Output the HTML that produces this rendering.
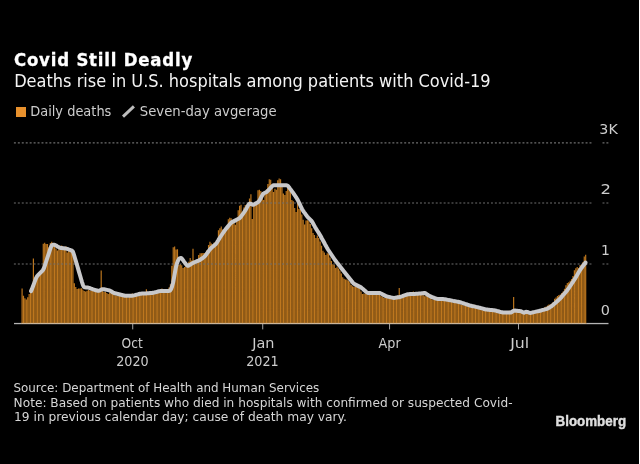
<!DOCTYPE html>
<html><head><meta charset="utf-8"><title>Covid Still Deadly</title>
<style>
html,body{margin:0;padding:0;background:#000;}
body{width:640px;height:464px;overflow:hidden;}
svg{display:block}
text{font-family:'DejaVu Sans','Liberation Sans',sans-serif;fill:#d8d8d8;white-space:pre}
.t{font-weight:bold;font-size:18.4px;fill:#fff;font-stretch:condensed;stroke:#fff;stroke-width:0.3px}
.s{font-size:16.9px;fill:#f4f4f4}
.l{font-size:13.8px;fill:#cdcdcd}
.a{font-size:13.9px;fill:#cdcdcd}
.n{font-size:12.9px;fill:#d6d6d6}
.b{font-family:'Liberation Sans',sans-serif;font-weight:bold;font-size:14.3px;fill:#dedede;stroke:#dedede;stroke-width:0.45px}
</style></head><body>
<svg width="640" height="464" viewBox="0 0 640 464">
<rect width="640" height="464" fill="#000"/>
<rect x="639" y="0" width="1" height="464" fill="#fff"/>
<rect x="16" y="107" width="10" height="10" fill="#e8912d"/>
<line x1="123" y1="116.6" x2="133.9" y2="106.4" stroke="#bdbdbd" stroke-width="3"/>
<rect x="14" y="322.9" width="594.5" height="1.3" fill="#b4b4b4"/>
<path d="M21.50 324v-35.4h1.18v35.4zM22.91 324v-28.3h1.18v28.3zM24.32 324v-25.7h1.18v25.7zM25.74 324v-24.4h1.18v24.4zM27.15 324v-26.7h1.18v26.7zM28.56 324v-29.9h1.18v29.9zM29.98 324v-33.6h1.18v33.6zM31.39 324v-38.2h1.18v38.2zM32.80 324v-65.5h1.18v65.5zM34.21 324v-43.7h1.18v43.7zM35.62 324v-44.5h1.18v44.5zM37.04 324v-46.6h1.18v46.6zM38.45 324v-48.7h1.18v48.7zM39.86 324v-50.8h1.18v50.8zM41.28 324v-52.5h1.18v52.5zM42.69 324v-80.3h1.18v80.3zM44.10 324v-81.3h1.18v81.3zM45.51 324v-79.9h1.18v79.9zM46.92 324v-79.9h1.18v79.9zM48.34 324v-76.8h1.18v76.8zM49.75 324v-81.0h1.18v81.0zM51.16 324v-82.2h1.18v82.2zM52.58 324v-77.9h1.18v77.9zM53.99 324v-79.0h1.18v79.0zM55.40 324v-75.6h1.18v75.6zM56.81 324v-73.6h1.18v73.6zM58.23 324v-74.8h1.18v74.8zM59.64 324v-74.5h1.18v74.5zM61.05 324v-78.6h1.18v78.6zM62.46 324v-76.0h1.18v76.0zM63.88 324v-76.6h1.18v76.6zM65.29 324v-77.7h1.18v77.7zM66.70 324v-71.5h1.18v71.5zM68.11 324v-73.9h1.18v73.9zM69.53 324v-72.6h1.18v72.6zM70.94 324v-74.3h1.18v74.3zM72.35 324v-70.8h1.18v70.8zM73.76 324v-40.8h1.18v40.8zM75.18 324v-37.0h1.18v37.0zM76.59 324v-34.9h1.18v34.9zM78.00 324v-35.4h1.18v35.4zM79.41 324v-35.4h1.18v35.4zM80.83 324v-35.8h1.18v35.8zM82.24 324v-34.5h1.18v34.5zM83.65 324v-33.1h1.18v33.1zM85.06 324v-32.5h1.18v32.5zM86.48 324v-33.2h1.18v33.2zM87.89 324v-34.0h1.18v34.0zM89.30 324v-33.6h1.18v33.6zM90.71 324v-33.5h1.18v33.5zM92.12 324v-34.3h1.18v34.3zM93.54 324v-33.0h1.18v33.0zM94.95 324v-32.6h1.18v32.6zM96.36 324v-32.6h1.18v32.6zM97.78 324v-32.5h1.18v32.5zM99.19 324v-33.3h1.18v33.3zM100.60 324v-53.5h1.18v53.5zM102.01 324v-33.1h1.18v33.1zM103.43 324v-32.0h1.18v32.0zM104.84 324v-32.0h1.18v32.0zM106.25 324v-30.9h1.18v30.9zM107.66 324v-30.1h1.18v30.1zM109.08 324v-31.5h1.18v31.5zM110.49 324v-32.1h1.18v32.1zM111.90 324v-30.5h1.18v30.5zM113.31 324v-29.3h1.18v29.3zM114.73 324v-28.5h1.18v28.5zM116.14 324v-28.1h1.18v28.1zM117.55 324v-28.1h1.18v28.1zM118.96 324v-28.1h1.18v28.1zM120.38 324v-29.1h1.18v29.1zM121.79 324v-27.9h1.18v27.9zM123.20 324v-27.4h1.18v27.4zM124.61 324v-27.5h1.18v27.5zM126.03 324v-27.3h1.18v27.3zM127.44 324v-26.6h1.18v26.6zM128.85 324v-27.9h1.18v27.9zM130.26 324v-28.7h1.18v28.7zM131.68 324v-30.6h1.18v30.6zM133.09 324v-27.7h1.18v27.7zM134.50 324v-28.9h1.18v28.9zM135.91 324v-29.2h1.18v29.2zM137.32 324v-29.4h1.18v29.4zM138.74 324v-29.9h1.18v29.9zM140.15 324v-30.7h1.18v30.7zM141.56 324v-30.5h1.18v30.5zM142.98 324v-30.4h1.18v30.4zM144.39 324v-31.1h1.18v31.1zM145.80 324v-34.7h1.18v34.7zM147.21 324v-31.2h1.18v31.2zM148.62 324v-32.1h1.18v32.1zM150.04 324v-32.6h1.18v32.6zM151.45 324v-32.1h1.18v32.1zM152.86 324v-31.7h1.18v31.7zM154.28 324v-31.2h1.18v31.2zM155.69 324v-31.7h1.18v31.7zM157.10 324v-33.2h1.18v33.2zM158.51 324v-33.7h1.18v33.7zM159.93 324v-33.7h1.18v33.7zM161.34 324v-35.6h1.18v35.6zM162.75 324v-33.1h1.18v33.1zM164.16 324v-33.6h1.18v33.6zM165.58 324v-34.1h1.18v34.1zM166.99 324v-33.9h1.18v33.9zM168.40 324v-36.4h1.18v36.4zM169.81 324v-39.8h1.18v39.8zM171.23 324v-58.2h1.18v58.2zM172.64 324v-76.7h1.18v76.7zM174.05 324v-77.4h1.18v77.4zM175.46 324v-74.5h1.18v74.5zM176.88 324v-74.7h1.18v74.7zM178.29 324v-59.1h1.18v59.1zM179.70 324v-59.9h1.18v59.9zM181.11 324v-58.7h1.18v58.7zM182.53 324v-56.0h1.18v56.0zM183.94 324v-56.9h1.18v56.9zM185.35 324v-57.3h1.18v57.3zM186.76 324v-58.3h1.18v58.3zM188.18 324v-62.3h1.18v62.3zM189.59 324v-66.1h1.18v66.1zM191.00 324v-63.5h1.18v63.5zM192.41 324v-75.2h1.18v75.2zM193.83 324v-62.2h1.18v62.2zM195.24 324v-62.0h1.18v62.0zM196.65 324v-65.0h1.18v65.0zM198.06 324v-68.9h1.18v68.9zM199.48 324v-70.7h1.18v70.7zM200.89 324v-70.8h1.18v70.8zM202.30 324v-71.1h1.18v71.1zM203.71 324v-70.9h1.18v70.9zM205.12 324v-71.5h1.18v71.5zM206.54 324v-73.9h1.18v73.9zM207.95 324v-79.1h1.18v79.1zM209.36 324v-82.3h1.18v82.3zM210.78 324v-80.4h1.18v80.4zM212.19 324v-78.6h1.18v78.6zM213.60 324v-81.6h1.18v81.6zM215.01 324v-81.6h1.18v81.6zM216.43 324v-83.6h1.18v83.6zM217.84 324v-93.7h1.18v93.7zM219.25 324v-95.8h1.18v95.8zM220.66 324v-97.6h1.18v97.6zM222.08 324v-94.6h1.18v94.6zM223.49 324v-93.4h1.18v93.4zM224.90 324v-94.4h1.18v94.4zM226.31 324v-98.1h1.18v98.1zM227.73 324v-104.8h1.18v104.8zM229.14 324v-106.2h1.18v106.2zM230.55 324v-105.8h1.18v105.8zM231.96 324v-100.9h1.18v100.9zM233.38 324v-102.0h1.18v102.0zM234.79 324v-99.3h1.18v99.3zM236.20 324v-104.5h1.18v104.5zM237.61 324v-113.8h1.18v113.8zM239.03 324v-118.2h1.18v118.2zM240.44 324v-119.2h1.18v119.2zM241.85 324v-112.2h1.18v112.2zM243.26 324v-116.4h1.18v116.4zM244.68 324v-118.9h1.18v118.9zM246.09 324v-118.9h1.18v118.9zM247.50 324v-121.3h1.18v121.3zM248.91 324v-125.5h1.18v125.5zM250.33 324v-129.7h1.18v129.7zM251.74 324v-105.0h1.18v105.0zM253.15 324v-118.9h1.18v118.9zM254.56 324v-121.1h1.18v121.1zM255.98 324v-121.6h1.18v121.6zM257.39 324v-133.7h1.18v133.7zM258.80 324v-134.3h1.18v134.3zM260.21 324v-132.9h1.18v132.9zM261.62 324v-129.0h1.18v129.0zM263.04 324v-124.0h1.18v124.0zM264.45 324v-129.8h1.18v129.8zM265.86 324v-134.8h1.18v134.8zM267.27 324v-139.9h1.18v139.9zM268.69 324v-144.7h1.18v144.7zM270.10 324v-144.2h1.18v144.2zM271.51 324v-138.5h1.18v138.5zM272.93 324v-131.9h1.18v131.9zM274.34 324v-135.3h1.18v135.3zM275.75 324v-134.3h1.18v134.3zM277.16 324v-143.7h1.18v143.7zM278.57 324v-145.6h1.18v145.6zM279.99 324v-144.7h1.18v144.7zM281.40 324v-137.6h1.18v137.6zM282.81 324v-130.6h1.18v130.6zM284.23 324v-129.1h1.18v129.1zM285.64 324v-132.9h1.18v132.9zM287.05 324v-136.4h1.18v136.4zM288.46 324v-139.0h1.18v139.0zM289.88 324v-132.5h1.18v132.5zM291.29 324v-124.0h1.18v124.0zM292.70 324v-122.8h1.18v122.8zM294.11 324v-115.9h1.18v115.9zM295.53 324v-112.0h1.18v112.0zM296.94 324v-122.5h1.18v122.5zM298.35 324v-114.9h1.18v114.9zM299.76 324v-114.9h1.18v114.9zM301.18 324v-109.6h1.18v109.6zM302.59 324v-104.3h1.18v104.3zM304.00 324v-99.5h1.18v99.5zM305.41 324v-103.4h1.18v103.4zM306.83 324v-103.8h1.18v103.8zM308.24 324v-103.1h1.18v103.1zM309.65 324v-99.9h1.18v99.9zM311.06 324v-95.7h1.18v95.7zM312.48 324v-91.0h1.18v91.0zM313.89 324v-89.0h1.18v89.0zM315.30 324v-86.0h1.18v86.0zM316.71 324v-88.5h1.18v88.5zM318.12 324v-85.9h1.18v85.9zM319.54 324v-82.6h1.18v82.6zM320.95 324v-78.3h1.18v78.3zM322.36 324v-73.2h1.18v73.2zM323.78 324v-71.6h1.18v71.6zM325.19 324v-69.1h1.18v69.1zM326.60 324v-70.8h1.18v70.8zM328.01 324v-70.3h1.18v70.3zM329.43 324v-66.5h1.18v66.5zM330.84 324v-63.1h1.18v63.1zM332.25 324v-59.7h1.18v59.7zM333.66 324v-59.0h1.18v59.0zM335.08 324v-56.1h1.18v56.1zM336.49 324v-57.3h1.18v57.3zM337.90 324v-55.6h1.18v55.6zM339.31 324v-53.6h1.18v53.6zM340.73 324v-50.5h1.18v50.5zM342.14 324v-46.8h1.18v46.8zM343.55 324v-45.3h1.18v45.3zM344.96 324v-44.6h1.18v44.6zM346.38 324v-44.6h1.18v44.6zM347.79 324v-43.2h1.18v43.2zM349.20 324v-41.7h1.18v41.7zM350.61 324v-39.1h1.18v39.1zM352.03 324v-37.8h1.18v37.8zM353.44 324v-37.3h1.18v37.3zM354.85 324v-37.0h1.18v37.0zM356.26 324v-37.5h1.18v37.5zM357.68 324v-36.7h1.18v36.7zM359.09 324v-35.1h1.18v35.1zM360.50 324v-32.5h1.18v32.5zM361.91 324v-29.9h1.18v29.9zM363.33 324v-30.5h1.18v30.5zM364.74 324v-30.3h1.18v30.3zM366.15 324v-32.2h1.18v32.2zM367.56 324v-31.8h1.18v31.8zM368.98 324v-32.3h1.18v32.3zM370.39 324v-30.4h1.18v30.4zM371.80 324v-30.1h1.18v30.1zM373.21 324v-29.3h1.18v29.3zM374.62 324v-30.2h1.18v30.2zM376.04 324v-31.3h1.18v31.3zM377.45 324v-31.0h1.18v31.0zM378.86 324v-30.0h1.18v30.0zM380.28 324v-28.1h1.18v28.1zM381.69 324v-27.3h1.18v27.3zM383.10 324v-26.3h1.18v26.3zM384.51 324v-26.0h1.18v26.0zM385.93 324v-27.5h1.18v27.5zM387.34 324v-27.7h1.18v27.7zM388.75 324v-27.1h1.18v27.1zM390.16 324v-26.3h1.18v26.3zM391.58 324v-25.0h1.18v25.0zM392.99 324v-25.9h1.18v25.9zM394.40 324v-26.8h1.18v26.8zM395.81 324v-28.0h1.18v28.0zM397.23 324v-28.8h1.18v28.8zM398.64 324v-36.0h1.18v36.0zM400.05 324v-28.3h1.18v28.3zM401.46 324v-28.7h1.18v28.7zM402.88 324v-28.7h1.18v28.7zM404.29 324v-29.7h1.18v29.7zM405.70 324v-31.0h1.18v31.0zM407.11 324v-31.0h1.18v31.0zM408.53 324v-31.0h1.18v31.0zM409.94 324v-30.2h1.18v30.2zM411.35 324v-29.1h1.18v29.1zM412.76 324v-32.4h1.18v32.4zM414.18 324v-28.6h1.18v28.6zM415.59 324v-31.8h1.18v31.8zM417.00 324v-31.8h1.18v31.8zM418.41 324v-30.6h1.18v30.6zM419.83 324v-29.9h1.18v29.9zM421.24 324v-29.3h1.18v29.3zM422.65 324v-28.7h1.18v28.7zM424.06 324v-27.7h1.18v27.7zM425.48 324v-28.6h1.18v28.6zM426.89 324v-29.9h1.18v29.9zM428.30 324v-26.6h1.18v26.6zM429.71 324v-26.0h1.18v26.0zM431.12 324v-24.8h1.18v24.8zM432.54 324v-24.3h1.18v24.3zM433.95 324v-25.0h1.18v25.0zM435.36 324v-25.4h1.18v25.4zM436.78 324v-25.9h1.18v25.9zM438.19 324v-25.8h1.18v25.8zM439.60 324v-25.2h1.18v25.2zM441.01 324v-23.9h1.18v23.9zM442.43 324v-24.1h1.18v24.1zM443.84 324v-23.2h1.18v23.2zM445.25 324v-24.5h1.18v24.5zM446.66 324v-24.4h1.18v24.4zM448.08 324v-23.2h1.18v23.2zM449.49 324v-22.8h1.18v22.8zM450.90 324v-24.2h1.18v24.2zM452.31 324v-21.5h1.18v21.5zM453.73 324v-21.5h1.18v21.5zM455.14 324v-22.9h1.18v22.9zM456.55 324v-21.9h1.18v21.9zM457.96 324v-20.9h1.18v20.9zM459.38 324v-20.0h1.18v20.0zM460.79 324v-19.0h1.18v19.0zM462.20 324v-19.2h1.18v19.2zM463.61 324v-18.6h1.18v18.6zM465.03 324v-18.8h1.18v18.8zM466.44 324v-18.8h1.18v18.8zM467.85 324v-19.0h1.18v19.0zM469.26 324v-17.2h1.18v17.2zM470.68 324v-16.6h1.18v16.6zM472.09 324v-16.4h1.18v16.4zM473.50 324v-19.3h1.18v19.3zM474.91 324v-16.8h1.18v16.8zM476.33 324v-16.3h1.18v16.3zM477.74 324v-15.5h1.18v15.5zM479.15 324v-15.0h1.18v15.0zM480.56 324v-14.2h1.18v14.2zM481.98 324v-13.7h1.18v13.7zM483.39 324v-14.2h1.18v14.2zM484.80 324v-14.7h1.18v14.7zM486.21 324v-14.5h1.18v14.5zM487.63 324v-14.1h1.18v14.1zM489.04 324v-13.6h1.18v13.6zM490.45 324v-13.0h1.18v13.0zM491.86 324v-12.5h1.18v12.5zM493.28 324v-12.5h1.18v12.5zM494.69 324v-12.4h1.18v12.4zM496.10 324v-12.5h1.18v12.5zM497.51 324v-11.6h1.18v11.6zM498.93 324v-11.4h1.18v11.4zM500.34 324v-11.2h1.18v11.2zM501.75 324v-11.4h1.18v11.4zM503.16 324v-11.1h1.18v11.1zM504.58 324v-11.6h1.18v11.6zM505.99 324v-11.9h1.18v11.9zM507.40 324v-12.4h1.18v12.4zM508.81 324v-13.2h1.18v13.2zM510.23 324v-13.1h1.18v13.1zM511.64 324v-12.9h1.18v12.9zM513.05 324v-27.0h1.18v27.0zM514.46 324v-13.2h1.18v13.2zM515.88 324v-13.8h1.18v13.8zM517.29 324v-12.8h1.18v12.8zM518.70 324v-11.0h1.18v11.0zM520.11 324v-11.0h1.18v11.0zM521.53 324v-12.0h1.18v12.0zM522.94 324v-11.6h1.18v11.6zM524.35 324v-11.3h1.18v11.3zM525.76 324v-11.6h1.18v11.6zM527.17 324v-11.7h1.18v11.7zM528.59 324v-11.5h1.18v11.5zM530.00 324v-11.9h1.18v11.9zM531.41 324v-12.2h1.18v12.2zM532.83 324v-12.3h1.18v12.3zM534.24 324v-13.4h1.18v13.4zM535.65 324v-13.8h1.18v13.8zM537.06 324v-13.9h1.18v13.9zM538.48 324v-14.0h1.18v14.0zM539.89 324v-14.2h1.18v14.2zM541.30 324v-14.3h1.18v14.3zM542.71 324v-14.4h1.18v14.4zM544.12 324v-16.8h1.18v16.8zM545.54 324v-17.5h1.18v17.5zM546.95 324v-18.5h1.18v18.5zM548.36 324v-19.4h1.18v19.4zM549.77 324v-19.8h1.18v19.8zM551.19 324v-20.6h1.18v20.6zM552.60 324v-21.9h1.18v21.9zM554.01 324v-25.3h1.18v25.3zM555.43 324v-26.6h1.18v26.6zM556.84 324v-28.1h1.18v28.1zM558.25 324v-29.0h1.18v29.0zM559.66 324v-29.6h1.18v29.6zM561.08 324v-30.9h1.18v30.9zM562.49 324v-32.5h1.18v32.5zM563.90 324v-35.3h1.18v35.3zM565.31 324v-38.8h1.18v38.8zM566.73 324v-41.0h1.18v41.0zM568.14 324v-41.7h1.18v41.7zM569.55 324v-43.3h1.18v43.3zM570.96 324v-45.0h1.18v45.0zM572.38 324v-48.0h1.18v48.0zM573.79 324v-53.7h1.18v53.7zM575.20 324v-55.7h1.18v55.7zM576.61 324v-57.1h1.18v57.1zM578.03 324v-56.0h1.18v56.0zM579.44 324v-58.9h1.18v58.9zM580.85 324v-59.6h1.18v59.6zM582.26 324v-61.8h1.18v61.8zM583.68 324v-67.4h1.18v67.4zM585.09 324v-69.2h1.18v69.2z" fill="#be771e"/>
<g stroke="#6e6e6e" stroke-width="1.1" stroke-dasharray="1.97 1.9725" fill="none"><path d="M13.9 142.9H591.6M602.5 142.9H604.5M606.4 142.9H608.4"/><path d="M13.9 203.0H591.6M602.5 203.0H604.5M606.4 203.0H608.4"/><path d="M13.9 264.0H591.6M602.5 264.0H604.5M606.4 264.0H608.4"/></g>
<path d="M31.0 291.1L32.0 288.9L33.0 286.2L34.0 283.6L35.0 280.9L36.0 278.3L37.0 276.4L38.0 275.2L39.0 274.2L40.0 273.2L41.0 272.2L42.0 271.2L43.0 270.0L44.0 268.0L45.0 265.1L46.0 262.0L47.0 258.9L48.0 255.9L49.0 252.8L50.0 249.7L51.0 246.8L52.0 245.1L53.0 244.8L54.0 244.8L55.0 245.0L56.0 245.5L57.0 246.2L58.0 246.8L59.0 247.4L60.0 247.8L61.0 248.0L62.0 248.1L63.0 248.2L64.0 248.3L65.0 248.4L66.0 248.6L67.0 248.9L68.0 249.2L69.0 249.6L70.0 249.9L71.0 250.3L72.0 250.7L73.0 251.9L74.0 254.8L75.0 258.2L76.0 261.6L77.0 265.0L78.0 268.4L79.0 271.9L80.0 275.3L81.0 278.7L82.0 282.1L83.0 285.2L84.0 286.9L85.0 287.3L86.0 287.4L87.0 287.5L88.0 287.6L89.0 287.9L90.0 288.2L91.0 288.6L92.0 288.9L93.0 289.3L94.0 289.6L95.0 290.0L96.0 290.3L97.0 290.5L98.0 290.8L99.0 290.7L100.0 290.3L101.0 289.8L102.0 289.3L103.0 289.2L104.0 289.3L105.0 289.5L106.0 289.7L107.0 289.9L108.0 290.1L109.0 290.3L110.0 290.6L111.0 291.2L112.0 291.8L113.0 292.5L114.0 293.0L115.0 293.3L116.0 293.5L117.0 293.8L118.0 294.0L119.0 294.3L120.0 294.5L121.0 294.8L122.0 295.0L123.0 295.3L124.0 295.5L125.0 295.7L126.0 295.8L127.0 295.8L128.0 295.8L129.0 295.8L130.0 295.8L131.0 295.8L132.0 295.7L133.0 295.6L134.0 295.4L135.0 295.1L136.0 294.8L137.0 294.6L138.0 294.3L139.0 294.0L140.0 293.8L141.0 293.7L142.0 293.6L143.0 293.6L144.0 293.5L145.0 293.4L146.0 293.4L147.0 293.3L148.0 293.3L149.0 293.2L150.0 293.1L151.0 293.1L152.0 293.0L153.0 292.8L154.0 292.6L155.0 292.3L156.0 292.1L157.0 291.8L158.0 291.5L159.0 291.3L160.0 291.1L161.0 291.0L162.0 291.0L163.0 291.0L164.0 291.0L165.0 291.0L166.0 291.0L167.0 291.0L168.0 291.0L169.0 291.0L170.0 290.6L171.0 289.1L172.0 286.8L173.0 283.0L174.0 277.8L175.0 272.1L176.0 266.9L177.0 263.3L178.0 260.7L179.0 258.9L180.0 258.1L181.0 257.9L182.0 258.7L183.0 260.1L184.0 261.6L185.0 262.9L186.0 264.2L187.0 265.4L188.0 265.8L189.0 265.4L190.0 264.8L191.0 264.1L192.0 263.5L193.0 263.0L194.0 262.4L195.0 262.0L196.0 261.6L197.0 261.2L198.0 260.8L199.0 260.4L200.0 259.9L201.0 259.2L202.0 258.5L203.0 257.8L204.0 257.0L205.0 256.1L206.0 254.8L207.0 253.4L208.0 252.0L209.0 250.6L210.0 249.3L211.0 248.2L212.0 247.3L213.0 246.5L214.0 245.6L215.0 244.8L216.0 243.8L217.0 242.4L218.0 240.8L219.0 239.1L220.0 237.5L221.0 236.0L222.0 234.5L223.0 233.0L224.0 231.5L225.0 230.1L226.0 228.8L227.0 227.6L228.0 226.4L229.0 225.2L230.0 224.0L231.0 222.9L232.0 222.1L233.0 221.6L234.0 221.1L235.0 220.6L236.0 220.1L237.0 219.5L238.0 219.0L239.0 218.5L240.0 217.8L241.0 216.6L242.0 215.2L243.0 213.8L244.0 212.4L245.0 210.9L246.0 209.2L247.0 207.4L248.0 205.5L249.0 204.0L250.0 203.5L251.0 203.9L252.0 204.4L253.0 204.8L254.0 204.5L255.0 203.9L256.0 203.4L257.0 202.8L258.0 202.2L259.0 201.2L260.0 199.5L261.0 197.6L262.0 195.7L263.0 194.0L264.0 193.3L265.0 192.8L266.0 192.3L267.0 191.7L268.0 190.7L269.0 189.6L270.0 188.5L271.0 187.4L272.0 186.3L273.0 185.5L274.0 185.2L275.0 185.2L276.0 185.2L277.0 185.2L278.0 185.2L279.0 185.2L280.0 185.2L281.0 185.2L282.0 185.2L283.0 185.2L284.0 185.2L285.0 185.2L286.0 185.2L287.0 185.4L288.0 186.0L289.0 187.2L290.0 188.6L291.0 189.9L292.0 191.3L293.0 192.7L294.0 194.1L295.0 195.7L296.0 197.1L297.0 198.7L298.0 200.5L299.0 202.6L300.0 204.7L301.0 206.8L302.0 208.9L303.0 210.6L304.0 212.1L305.0 213.4L306.0 214.8L307.0 216.2L308.0 217.4L309.0 218.4L310.0 219.4L311.0 220.4L312.0 221.6L313.0 223.3L314.0 225.1L315.0 226.9L316.0 228.6L317.0 230.2L318.0 231.8L319.0 233.4L320.0 235.0L321.0 236.8L322.0 238.7L323.0 240.5L324.0 242.3L325.0 244.2L326.0 246.0L327.0 247.8L328.0 249.5L329.0 251.0L330.0 252.5L331.0 254.0L332.0 255.5L333.0 257.0L334.0 258.5L335.0 260.0L336.0 261.3L337.0 262.6L338.0 263.9L339.0 265.1L340.0 266.4L341.0 267.7L342.0 269.0L343.0 270.3L344.0 271.6L345.0 272.8L346.0 274.1L347.0 275.3L348.0 276.6L349.0 277.8L350.0 279.1L351.0 280.3L352.0 281.6L353.0 282.8L354.0 283.8L355.0 284.4L356.0 284.9L357.0 285.4L358.0 285.9L359.0 286.4L360.0 286.9L361.0 287.4L362.0 288.2L363.0 289.0L364.0 289.9L365.0 290.8L366.0 291.7L367.0 292.5L368.0 292.9L369.0 293.0L370.0 293.0L371.0 293.0L372.0 293.0L373.0 293.0L374.0 293.0L375.0 293.0L376.0 293.0L377.0 293.0L378.0 293.0L379.0 293.0L380.0 293.1L381.0 293.5L382.0 294.0L383.0 294.6L384.0 295.1L385.0 295.6L386.0 296.1L387.0 296.4L388.0 296.7L389.0 296.9L390.0 297.1L391.0 297.4L392.0 297.6L393.0 297.8L394.0 297.9L395.0 297.8L396.0 297.6L397.0 297.5L398.0 297.3L399.0 297.2L400.0 297.0L401.0 296.6L402.0 296.3L403.0 295.9L404.0 295.5L405.0 295.2L406.0 294.8L407.0 294.5L408.0 294.3L409.0 294.2L410.0 294.1L411.0 294.1L412.0 294.0L413.0 294.0L414.0 293.9L415.0 293.9L416.0 293.8L417.0 293.8L418.0 293.7L419.0 293.6L420.0 293.5L421.0 293.4L422.0 293.3L423.0 293.2L424.0 293.1L425.0 293.1L426.0 293.6L427.0 294.3L428.0 295.0L429.0 295.6L430.0 296.2L431.0 296.6L432.0 297.1L433.0 297.4L434.0 297.9L435.0 298.2L436.0 298.6L437.0 298.8L438.0 298.9L439.0 298.9L440.0 299.0L441.0 299.0L442.0 299.1L443.0 299.1L444.0 299.2L445.0 299.3L446.0 299.4L447.0 299.7L448.0 299.9L449.0 300.1L450.0 300.2L451.0 300.4L452.0 300.6L453.0 300.9L454.0 301.1L455.0 301.2L456.0 301.4L457.0 301.6L458.0 301.8L459.0 302.0L460.0 302.2L461.0 302.5L462.0 302.9L463.0 303.2L464.0 303.5L465.0 303.9L466.0 304.2L467.0 304.5L468.0 304.8L469.0 305.2L470.0 305.5L471.0 305.7L472.0 306.0L473.0 306.2L474.0 306.4L475.0 306.6L476.0 306.9L477.0 307.1L478.0 307.3L479.0 307.6L480.0 307.8L481.0 308.1L482.0 308.4L483.0 308.7L484.0 309.0L485.0 309.3L486.0 309.4L487.0 309.5L488.0 309.7L489.0 309.8L490.0 309.9L491.0 310.0L492.0 310.1L493.0 310.2L494.0 310.3L495.0 310.4L496.0 310.7L497.0 311.0L498.0 311.2L499.0 311.5L500.0 311.8L501.0 312.1L502.0 312.3L503.0 312.5L504.0 312.5L505.0 312.5L506.0 312.5L507.0 312.5L508.0 312.5L509.0 312.5L510.0 312.5L511.0 312.4L512.0 311.9L513.0 311.1L514.0 310.7L515.0 310.6L516.0 310.7L517.0 310.8L518.0 310.9L519.0 311.0L520.0 311.1L521.0 311.3L522.0 311.8L523.0 312.4L524.0 312.7L525.0 312.2L526.0 311.8L527.0 311.9L528.0 312.2L529.0 312.6L530.0 312.9L531.0 312.8L532.0 312.6L533.0 312.3L534.0 312.1L535.0 311.9L536.0 311.6L537.0 311.4L538.0 311.2L539.0 311.0L540.0 310.7L541.0 310.5L542.0 310.2L543.0 309.9L544.0 309.7L545.0 309.4L546.0 309.1L547.0 308.8L548.0 308.4L549.0 307.8L550.0 307.1L551.0 306.5L552.0 305.8L553.0 305.0L554.0 304.1L555.0 303.2L556.0 302.4L557.0 301.4L558.0 300.6L559.0 299.6L560.0 298.7L561.0 297.6L562.0 296.4L563.0 295.2L564.0 294.1L565.0 292.9L566.0 291.8L567.0 290.6L568.0 289.2L569.0 287.8L570.0 286.2L571.0 284.8L572.0 283.2L573.0 281.8L574.0 280.2L575.0 278.7L576.0 277.0L577.0 275.2L578.0 273.5L579.0 271.8L580.0 270.1L581.0 268.6L582.0 267.3L583.0 265.9L584.0 264.5L585.0 263.5L585.5 262.5" fill="none" stroke="#c8c8ca" stroke-width="4" stroke-linejoin="round" stroke-linecap="round"/>
<rect x="21.5" y="322.9" width="564.4" height="1.1" fill="#d8d8d8" fill-opacity="0.6"/>
<g fill="#b8b8b8">
<rect x="132.3" y="324" width="0.9" height="5.4"/><rect x="262.3" y="324" width="0.9" height="5.4"/>
<rect x="389.15" y="324" width="0.9" height="5.4"/><rect x="518.05" y="324" width="0.9" height="5.4"/>
</g>
<text id="t1" class="t" x="14.00" y="65.70" textLength="178.25">Covid Still Deadly</text>
<text id="t2" class="s" x="14.15" y="86.80" textLength="476.44" lengthAdjust="spacingAndGlyphs">Deaths rise in U.S. hospitals among patients with Covid-19</text>
<text id="l1" class="l" x="30.19" y="116.20" textLength="81.20" lengthAdjust="spacingAndGlyphs">Daily deaths</text>
<text id="l2" class="l" x="139.77" y="116.20" textLength="136.81" lengthAdjust="spacingAndGlyphs">Seven-day avgerage</text>
<text id="a3" class="a" x="599.37" y="133.70" textLength="18.43" lengthAdjust="spacingAndGlyphs">3K</text>
<text id="a2" class="a" x="600.64" y="194.20" textLength="10.46" lengthAdjust="spacingAndGlyphs">2</text>
<text id="a1" class="a" x="600.93" y="255.20" textLength="8.88" lengthAdjust="spacingAndGlyphs">1</text>
<text id="a0" class="a" x="600.66" y="314.60" textLength="9.16" lengthAdjust="spacingAndGlyphs">0</text>
<text id="x1" class="a" x="121.52" y="347.80" textLength="21.20" lengthAdjust="spacingAndGlyphs">Oct</text>
<text id="x1b" class="a" x="116.19" y="365.60" textLength="32.42" lengthAdjust="spacingAndGlyphs">2020</text>
<text id="x2" class="a" x="252.26" y="347.80" textLength="22.25" lengthAdjust="spacingAndGlyphs">Jan</text>
<text id="x2b" class="a" x="246.19" y="365.60" textLength="32.48" lengthAdjust="spacingAndGlyphs">2021</text>
<text id="x3" class="a" x="378.61" y="347.80" textLength="22.03" lengthAdjust="spacingAndGlyphs">Apr</text>
<text id="x4" class="a" x="510.24" y="347.80" textLength="18.97" lengthAdjust="spacingAndGlyphs">Jul</text>
<text id="n1" class="n" x="13.46" y="391.80" textLength="305.80" lengthAdjust="spacingAndGlyphs">Source: Department of Health and Human Services</text>
<text id="n2" class="n" x="13.60" y="406.60" textLength="498.96" lengthAdjust="spacingAndGlyphs">Note: Based on patients who died in hospitals with confirmed or suspected Covid-</text>
<text id="n3" class="n" x="14.02" y="421.30" textLength="332.95" lengthAdjust="spacingAndGlyphs">19 in previous calendar day; cause of death may vary.</text>
<text id="bb" class="b" x="555.60" y="426.10" textLength="70.46" lengthAdjust="spacingAndGlyphs">Bloomberg</text>
</svg>
</body></html>
